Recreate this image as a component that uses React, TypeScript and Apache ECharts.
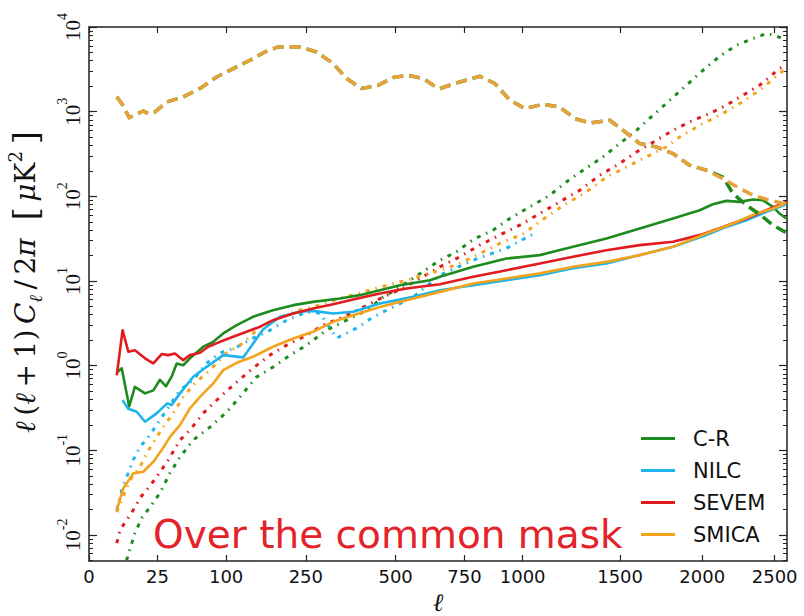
import React, { useEffect, useRef } from "react";
import * as echarts from "echarts";

// ---- axis ticks ----
const X_TICKS = [0, 25, 100, 250, 500, 750, 1000, 1500, 2000, 2500];
const Y_DECADES = [-2, -1, 0, 1, 2, 3, 4];
const ELL_MAX = 2591; // right edge of the plot (ell)
const Y_MIN_LOG = -2.308;
const Y_MAX_LOG = 4;

// ---- legend ----
const METHODS = ["C-R", "NILC", "SEVEM", "SMICA"];

// ---- solid lines (map spectra) ----
const crSolidEll = [4.3, 5.7, 8.6, 11.2, 16.7, 22, 26.8, 31.5, 36.3, 40.9, 47.2, 54.2, 69.4, 82.1, 95.8, 116, 143, 180, 222, 267, 335, 390, 450, 514, 618, 655, 785, 927, 1081, 1246, 1424, 1613, 1814, 1983, 2070, 2160, 2251, 2344, 2415, 2488, 2536, 2586];
const crSolidVal = [0.84, 0.93, 0.33, 0.56, 0.47, 0.51, 0.68, 0.57, 0.74, 1.06, 1.01, 1.22, 1.67, 1.91, 2.4, 3.01, 3.77, 4.52, 5.18, 5.66, 6.21, 6.8, 7.79, 8.92, 10.2, 11.2, 14.7, 18.4, 20.2, 25.3, 31.8, 41.7, 54.7, 68.5, 80.7, 88.3, 85.9, 91.6, 89.9, 75.0, 62.7, 54.7];

const nilcSolidEll = [6.0, 8.2, 12.1, 16.7, 24.3, 32.6, 36.3, 44.0, 57.8, 73.6, 95.8, 126.5, 161, 194, 236, 267, 317, 371, 450, 559, 655, 785, 927, 1081, 1246, 1424, 1613, 1814, 2027, 2160, 2298, 2440, 2586];
const nilcSolidVal = [0.39, 0.31, 0.285, 0.217, 0.273, 0.358, 0.342, 0.47, 0.738, 0.968, 1.33, 1.25, 2.67, 3.77, 4.32, 4.43, 4.13, 4.32, 5.42, 6.49, 7.78, 8.92, 10.2, 11.7, 14.1, 16.1, 20.2, 25.3, 34.8, 43.5, 52.2, 65.5, 80.7];

const sevemSolidEll = [4.1, 6.0, 8.2, 11.2, 16.7, 22.0, 28.1, 33.4, 39.3, 47.2, 54.2, 65.5, 75.6, 91.2, 110.6, 132, 155, 180, 222, 267, 317, 371, 450, 536, 655, 785, 927, 1081, 1246, 1424, 1613, 1814, 1983, 2137, 2298, 2440, 2586];
const sevemSolidVal = [0.77, 2.62, 1.46, 1.52, 1.22, 1.06, 1.37, 1.33, 1.39, 1.16, 1.33, 1.42, 1.67, 1.91, 2.19, 2.51, 2.87, 3.44, 4.13, 4.73, 5.32, 6.05, 7.11, 8.15, 9.16, 11.2, 13.4, 16.1, 19.3, 23.1, 26.5, 29.0, 34.8, 43.5, 54.7, 68.5, 85.9];

const smicaSolidEll = [4.1, 6.25, 10.4, 15.7, 22.0, 28.1, 34.9, 44.0, 54.2, 65.5, 82.1, 95.8, 116, 143, 180, 222, 267, 317, 371, 450, 536, 655, 785, 927, 1081, 1246, 1424, 1613, 1814, 2027, 2205, 2369, 2488, 2586];
const smicaSolidVal = [0.0197, 0.0355, 0.0533, 0.0557, 0.0731, 0.1005, 0.144, 0.198, 0.313, 0.428, 0.617, 0.885, 1.08, 1.27, 1.67, 2.09, 2.51, 3.29, 3.94, 4.94, 5.93, 7.43, 9.33, 10.7, 12.3, 14.7, 16.8, 20.2, 25.3, 36.4, 47.8, 62.7, 71.8, 83.6];

// ---- dotted lines (noise) ----
const crNoiseEll = [4.1, 7.55, 11.2, 14.8, 19.8, 26.8, 34.9, 44.0, 57.8, 77.8, 100.8, 121, 149, 180, 215, 252, 300, 353, 410, 460, 514, 655, 718, 785, 868, 942, 1033, 1129, 1212, 1298, 1405, 1498, 1594, 1692, 1793, 1898, 2005, 2115, 2229, 2344, 2440, 2500, 2561];
const crNoiseVal = [0.002, 0.00506, 0.0105, 0.0158, 0.0213, 0.0313, 0.0538, 0.0832, 0.132, 0.188, 0.282, 0.425, 0.731, 0.959, 1.33, 1.75, 2.62, 3.44, 4.52, 6.44, 8.45, 17.6, 22.1, 30.9, 39.8, 54.7, 75.0, 103, 148, 203, 292, 420, 603, 907, 1364, 2050, 3083, 4508, 6081, 7295, 8356, 7980, 7295];

const nilcNoiseEll = [4.1, 5.7, 7.55, 10.4, 13.8, 18.7, 26.8, 34.9, 44.0, 57.8, 73.6, 91.2, 116, 143, 168, 208, 252, 284, 326, 381, 429, 491, 558, 655, 785, 927, 1066];
const nilcNoiseVal = [0.0197, 0.0339, 0.0483, 0.0766, 0.109, 0.143, 0.228, 0.342, 0.514, 0.675, 1.07, 1.41, 1.65, 2.11, 2.49, 3.44, 4.28, 4.17, 2.11, 2.77, 3.74, 4.91, 6.44, 11.7, 17.6, 24.4, 37.7];

const sevemNoiseEll = [4.1, 5.1, 7.55, 10.4, 13.8, 18.7, 24.3, 33.4, 44.0, 54.2, 69.4, 91.2, 116, 143, 174, 208, 252, 292, 344, 400, 460, 525, 655, 731, 812, 897, 987, 1081, 1178, 1281, 1387, 1498, 1594, 1712, 1814, 1940, 2049, 2160, 2274, 2392, 2536, 2586];
const sevemNoiseVal = [0.008, 0.0114, 0.015, 0.0197, 0.0273, 0.0358, 0.0483, 0.0766, 0.132, 0.173, 0.275, 0.425, 0.638, 0.934, 1.33, 1.75, 2.29, 3.01, 3.74, 4.91, 6.44, 8.22, 14.7, 19.3, 26.5, 34.8, 45.6, 62.7, 85.9, 118, 177, 244, 334, 459, 603, 791, 950, 1191, 1563, 2050, 3228, 3532];

const smicaNoiseEll = [4.1, 8.9, 13.8, 17.7, 23.1, 29.3, 37.8, 47.2, 59.7, 77.8, 100.8, 126.5, 155, 194, 236, 284, 335, 390, 450, 536, 655, 731, 812, 897, 1002, 1113, 1212, 1316, 1424, 1536, 1652, 1773, 1856, 1983, 2115, 2251, 2392, 2536, 2586];
const smicaNoiseVal = [0.0186, 0.0445, 0.0634, 0.0927, 0.132, 0.188, 0.275, 0.425, 0.621, 0.885, 1.41, 1.85, 2.85, 3.74, 4.52, 5.18, 6.27, 7.18, 8.45, 10.2, 13.4, 16.1, 21.1, 27.7, 36.0, 57.1, 82.2, 113, 169, 222, 292, 383, 503, 691, 906, 1247, 1790, 2818, 3228];

// ---- dashed lines (CMB spectrum) ----
const cmbEll = [4.1, 5.7, 8.6, 15.7, 18.7, 23.1, 32.1, 47.2, 65.5, 86.6, 110.6, 137.7, 164.6, 190.4, 236.5, 275.5, 317, 353, 395, 445, 492, 542, 594, 630, 655, 731, 812, 876, 942, 1010, 1096, 1178, 1255, 1334, 1442, 1517, 1613, 1712, 1814, 1918, 2027, 2137, 2251, 2344, 2464, 2573];
const smicaCmbVal = [1493, 1247, 851, 1019, 950, 991, 1302, 1493, 1875, 2570, 3228, 4046, 5070, 5807, 5807, 5070, 3698, 2460, 1875, 2050, 2529, 2690, 2460, 2050, 1875, 2243, 2618, 2148, 1364, 1088, 1222, 1136, 829, 736, 791, 603, 420, 383, 320, 233, 203, 162, 124, 103, 90, 82];
const crCmbEll = [4.1, 5.7, 8.6, 15.7, 18.7, 23.1, 32.1, 47.2, 65.5, 86.6, 110.6, 137.7, 164.6, 190.4, 236.5, 275.5, 317, 353, 395, 445, 492, 542, 594, 630, 655, 731, 812, 876, 942, 1010, 1096, 1178, 1255, 1334, 1442, 1517, 1613, 1712, 1814, 1918, 2027, 2137, 2205, 2298, 2400, 2488, 2581];
const crCmbVal = [1493, 1247, 851, 1019, 950, 991, 1302, 1493, 1875, 2570, 3228, 4046, 5070, 5807, 5807, 5070, 3698, 2460, 1875, 2050, 2529, 2690, 2460, 2050, 1875, 2243, 2618, 2148, 1364, 1088, 1222, 1136, 829, 736, 791, 603, 420, 383, 320, 233, 203, 169, 108, 78.5, 60, 45.6, 37.5];

const GREEN = "#1e8b1e";
const CYAN = "#1db4ec";
const RED = "#e21b1f";
const ORANGE = "#f3a31c";
const ORANGE_D = "#e9a23a";

const toPts = (ell: number[], val: number[]) =>
  ell.map((l, i) => [Math.sqrt(l), Math.log10(val[i])]);

const DOT = [4, 6, 1.5, 6];
const DASH = [11, 6];

function mk(name: string, ell: number[], val: number[], color: string, width: number, type: any, z: number) {
  return {
    name,
    type: "line",
    data: toPts(ell, val),
    showSymbol: false,
    symbol: "none",
    clip: true,
    silent: true,
    z,
    itemStyle: { color },
    lineStyle: { color, width, type, cap: "butt", join: "round" },
  };
}

const TS = "\u2009"; // thin space used for math spacing

export default function App() {
  const ref = useRef<HTMLDivElement>(null);
  useEffect(() => {
    if (!ref.current) return;
    const chart = echarts.init(ref.current, undefined, { renderer: "svg" });
    const xTickVals = X_TICKS.map((t) => Math.sqrt(t));
    const minor: number[] = [];
    for (let d = -3; d <= 3; d++) {
      for (let k = 2; k <= 9; k++) {
        const v = d + Math.log10(k);
        if (v > Y_MIN_LOG && v < Y_MAX_LOG) minor.push(v);
      }
    }
    const axisColor = "#222";
    const xCommon: any = {
      type: "value",
      min: 0,
      max: Math.sqrt(ELL_MAX),
      splitLine: { show: false },
      axisLine: { show: true, onZero: false, lineStyle: { color: axisColor, width: 1.5 } },
    };
    const yCommon: any = {
      type: "value",
      min: Y_MIN_LOG,
      max: Y_MAX_LOG,
      splitLine: { show: false },
    };
    const ylab =
      `{i|ℓ}{m|${TS}(}{i|ℓ}{m|${TS}+${TS}1)${TS}}{i|C}{sub|ℓ}{m|${TS}/${TS}2}{i|π}{m|  }{br|[}{m|${TS}}{i|μ}{m|K}{sup|2}{br|${TS}]}`;
    const option: any = {
      animation: false,
      grid: { left: 89, right: 17, top: 27, bottom: 55, containLabel: false, outerBoundsMode: "none" },
      xAxis: [
        {
          ...xCommon,
          position: "bottom",
          axisTick: { show: true, inside: true, length: 6, customValues: xTickVals, lineStyle: { color: axisColor, width: 1.2 } },
          axisLabel: {
            customValues: xTickVals,
            formatter: (v: number) => String(Math.round(v * v)),
            fontSize: 18,
            fontFamily: "DejaVu Sans",
            color: "#111",
            margin: 6,
          },
          name: "ℓ",
          nameLocation: "middle",
          nameGap: 23,
          nameTextStyle: { fontSize: 25, fontFamily: "DejaVu Serif", fontStyle: "italic", color: "#111" },
        },
        {
          ...xCommon,
          position: "top",
          axisTick: { show: true, inside: true, length: 6, customValues: xTickVals, lineStyle: { color: axisColor, width: 1.2 } },
          axisLabel: { show: false },
        },
      ],
      yAxis: [
        {
          ...yCommon,
          position: "left",
          axisLine: { show: true, onZero: false, lineStyle: { color: axisColor, width: 1.5 } },
          axisTick: { show: true, inside: true, length: 8, customValues: Y_DECADES, lineStyle: { color: axisColor, width: 1.2 } },
          axisLabel: {
            customValues: Y_DECADES,
            rotate: 90,
            margin: 6,
            formatter: (v: number) => `{b|10}{s|${Math.round(v)}}`,
            rich: {
              b: { fontSize: 21, fontFamily: "Liberation Serif", color: "#111", lineHeight: 28, verticalAlign: "bottom" },
              s: { fontSize: 14, fontFamily: "Liberation Serif", color: "#111", lineHeight: 14, verticalAlign: "top" },
            },
          },
        },
        {
          ...yCommon,
          position: "left",
          axisLine: { show: false, onZero: false },
          axisTick: { show: true, inside: true, length: 4, customValues: minor, lineStyle: { color: axisColor, width: 1 } },
          axisLabel: { show: false },
        },
        {
          ...yCommon,
          position: "right",
          axisLine: { show: true, onZero: false, lineStyle: { color: axisColor, width: 1.5 } },
          axisTick: { show: true, inside: true, length: 8, customValues: Y_DECADES, lineStyle: { color: axisColor, width: 1.2 } },
          axisLabel: { show: false },
        },
        {
          ...yCommon,
          position: "right",
          axisLine: { show: false, onZero: false },
          axisTick: { show: true, inside: true, length: 4, customValues: minor, lineStyle: { color: axisColor, width: 1 } },
          axisLabel: { show: false },
        },
      ],
      legend: {
        data: METHODS,
        orient: "vertical",
        left: 636,
        top: 423,
        itemWidth: 34,
        itemHeight: 3,
        itemGap: 11,
        icon: "rect",
        textStyle: { fontSize: 21, fontFamily: "DejaVu Sans", color: "#111", padding: [0, 0, 0, 13] },
      },
      graphic: [
        {
          type: "text",
          left: 153,
          top: 515,
          silent: true,
          style: { text: "Over the common mask", fontSize: 39, fontFamily: "DejaVu Sans", fill: "#e4222a" },
        },
        {
          type: "text",
          x: 25,
          y: 282,
          rotation: Math.PI / 2,
          silent: true,
          style: {
            text: ylab,
            align: "center",
            verticalAlign: "middle",
            rich: {
              i: { fontSize: 28, fontFamily: "DejaVu Serif", fontStyle: "italic", fill: "#111", lineHeight: 34, verticalAlign: "middle" },
              m: { fontSize: 28, fontFamily: "DejaVu Serif", fill: "#111", lineHeight: 34, verticalAlign: "middle" },
              sub: { fontSize: 18, fontFamily: "DejaVu Serif", fontStyle: "italic", fill: "#111", lineHeight: 18, verticalAlign: "bottom" },
              sup: { fontSize: 18, fontFamily: "DejaVu Serif", fill: "#111", lineHeight: 18, verticalAlign: "top" },
              br: { fontSize: 34, fontFamily: "DejaVu Serif", fill: "#111", lineHeight: 38, verticalAlign: "middle" },
            },
          },
        },
      ],
      series: [
        mk("C-R noise", crNoiseEll, crNoiseVal, GREEN, 3, DOT, 2),
        mk("NILC noise", nilcNoiseEll, nilcNoiseVal, CYAN, 3, DOT, 2),
        mk("SEVEM noise", sevemNoiseEll, sevemNoiseVal, RED, 3, DOT, 2),
        mk("SMICA noise", smicaNoiseEll, smicaNoiseVal, ORANGE, 3, DOT, 2),
        mk("C-R", crSolidEll, crSolidVal, GREEN, 2.6, "solid", 3),
        mk("NILC", nilcSolidEll, nilcSolidVal, CYAN, 2.6, "solid", 3),
        mk("SEVEM", sevemSolidEll, sevemSolidVal, RED, 2.6, "solid", 3),
        mk("SMICA", smicaSolidEll, smicaSolidVal, ORANGE, 2.6, "solid", 3),
        mk("C-R CMB", crCmbEll, crCmbVal, GREEN, 3.5, DASH, 4),
        mk("SMICA CMB", cmbEll, smicaCmbVal, ORANGE_D, 3.5, DASH, 4),
      ],
    };
    chart.setOption(option);
    return () => chart.dispose();
  }, []);
  return <div ref={ref} style={{ position: "fixed", left: 0, top: 0, width: 804, height: 616, background: "#fff" }} />;
}
